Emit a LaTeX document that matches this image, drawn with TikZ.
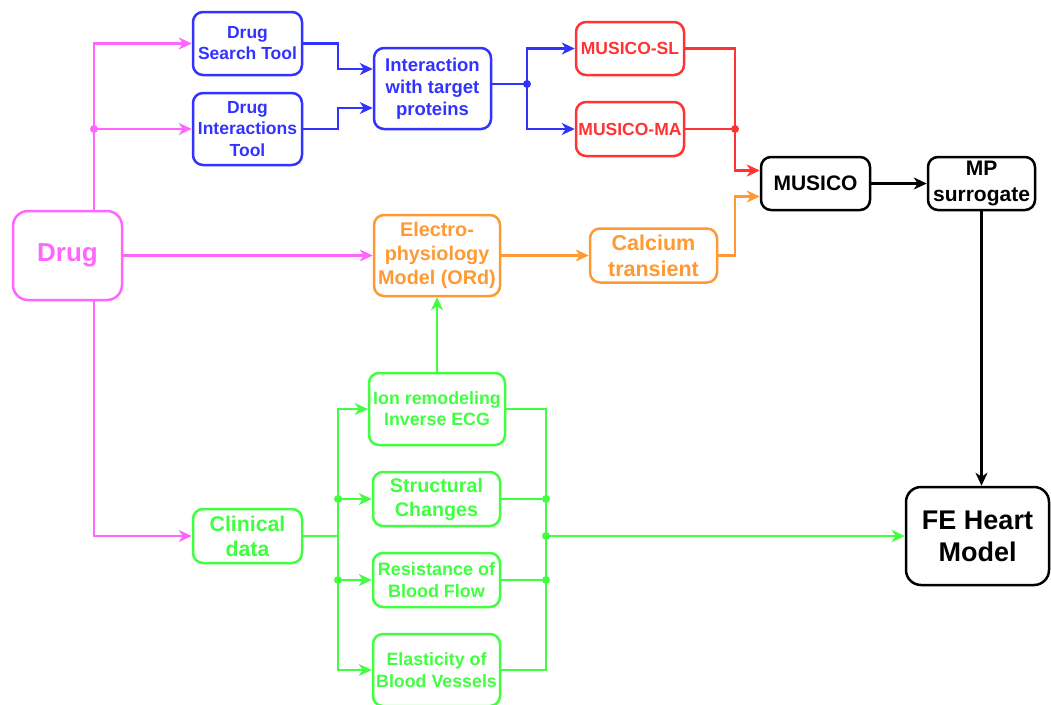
\documentclass[tikz,border=0pt]{standalone}
\usepackage{fontspec}
\setmainfont{Liberation Sans}
\usetikzlibrary{arrows.meta}
\definecolor{pinkc}{RGB}{255,102,255}
\definecolor{bluec}{RGB}{51,51,255}
\definecolor{redc}{RGB}{255,51,51}
\definecolor{orangec}{RGB}{255,153,51}
\definecolor{greenc}{RGB}{64,255,64}
\newcommand{\fsz}[2]{\fontsize{#1}{#2}\selectfont\bfseries}
\begin{document}
\begin{tikzpicture}[x=1pt,y=-1pt,
  box/.style={draw, rounded corners=10pt, line width=2.5pt, inner sep=0pt,
    align=center, fill=white},
  pinkbox/.style={box, draw=pinkc, text=pinkc},
  bluebox/.style={box, draw=bluec, text=bluec},
  redbox/.style={box, draw=redc, text=redc},
  orangebox/.style={box, draw=orangec, text=orangec},
  greenbox/.style={box, draw=greenc, text=greenc},
  blackbox/.style={box, draw=black, text=black},
  ln/.style={line width=2.5pt, -{Stealth[length=13pt,width=12pt,inset=4pt]}},
  plain/.style={line width=2.5pt},
  jdot/.style={radius=4pt},
]
\useasboundingbox (0,0) rectangle (1051,704);

% ---- boxes ----
\node[pinkbox, rounded corners=15pt, minimum width=109pt, minimum height=89pt, font=\fsz{26}{30}] (drug) at (67.5,255.5) {Drug};

\node[bluebox, minimum width=109pt, minimum height=63pt, font=\fsz{17.5}{21}] (dst) at (247.5,43.5) {Drug\\Search Tool};
\node[bluebox, minimum width=109pt, minimum height=72pt, font=\fsz{17.5}{21.5}] (dit) at (247.5,129) {Drug\\Interactions\\Tool};
\node[bluebox, minimum width=117pt, minimum height=81pt, font=\fsz{18.5}{22}] (iwt) at (432.5,88.5) {Interaction\\with target\\proteins};

\node[redbox, minimum width=108pt, minimum height=53pt, font=\fsz{17.5}{20}] (sl) at (630,48.5) {MUSICO-SL};
\node[redbox, minimum width=108pt, minimum height=54pt, font=\fsz{17.5}{20}] (ma) at (630,129) {MUSICO-MA};

\node[blackbox, minimum width=109pt, minimum height=53pt, font=\fsz{21}{24}] (musico) at (815.5,183.5) {MUSICO};
\node[blackbox, minimum width=107pt, minimum height=53pt, font=\fsz{21}{26}] (mp) at (981.5,183.5) {MP\\surrogate};
\node[blackbox, rounded corners=15pt, minimum width=143pt, minimum height=98pt, font=\fsz{27}{32}] (fe) at (977.5,536) {FE Heart\\Model};

\node[orangebox, minimum width=126pt, minimum height=81pt, font=\fsz{19.8}{24}] (ep) at (437,255.5) {Electro-\\physiology\\Model (ORd)};
\node[orangebox, minimum width=127pt, minimum height=54pt, font=\fsz{21.5}{26}] (ca) at (653.5,255.5) {Calcium\\transient};

\node[greenbox, minimum width=109pt, minimum height=54pt, font=\fsz{21.3}{25}] (cd) at (247.5,536) {Clinical\\data};
\node[greenbox, minimum width=136pt, minimum height=72pt, font=\fsz{17.8}{21}] (ion) at (437,409) {Ion remodeling\\Inverse ECG};
\node[greenbox, minimum width=127pt, minimum height=54pt, font=\fsz{19.7}{24}] (sc) at (436.5,499) {Structural\\Changes};
\node[greenbox, minimum width=127pt, minimum height=54pt, font=\fsz{18}{22}] (rb) at (436.5,580) {Resistance of\\Blood Flow};
\node[greenbox, minimum width=127pt, minimum height=72pt, font=\fsz{17.8}{22}] (eb) at (436.5,670) {Elasticity of\\Blood Vessels};

% ---- junction points ----
\coordinate (pj) at (94,129);
\coordinate (bl) at (338,0);
\coordinate (bj) at (527,84);
\coordinate (rj) at (735,129);
\coordinate (gl) at (338,536);
\coordinate (gr) at (546,536);

% ---- drug inputs ----
\draw[ln, pinkc] (drug.north -| pj) |- (dst.west);
\draw[ln, pinkc] (pj) -- (dit.west);
\draw[ln, pinkc] (drug.east) -- (ep.west);
\draw[ln, pinkc] (drug.south -| pj) |- (cd.west);
\fill[pinkc] (pj) circle[jdot];

% ---- drug tools to target proteins ----
\draw[ln, bluec] (dst.east) -- (dst.east -| bl) |- ([yshift=19.5pt]iwt.west);
\draw[ln, bluec] (dit.east) -- (dit.east -| bl) |- ([yshift=-19.5pt]iwt.west);
\draw[plain, bluec] ([yshift=4.5pt]iwt.east) -- (bj);
\draw[ln, bluec] (bj) |- (sl.west);
\draw[ln, bluec] (bj) |- (ma.west);
\fill[bluec] (bj) circle[jdot];

% ---- MUSICO variants ----
\draw[ln, redc] (sl.east) -- (sl.east -| rj) |- ([yshift=13pt]musico.west);
\draw[plain, redc] (ma.east) -- (rj);
\fill[redc] (rj) circle[jdot];

% ---- electrophysiology chain ----
\draw[ln, orangec] (ep.east) -- (ca.west);
\draw[ln, orangec] (ca.east) -- (ca.east -| rj) |- ([yshift=-13pt]musico.west);

% ---- surrogate to heart model ----
\draw[ln] (musico.east) -- (mp.west);
\draw[ln] (mp.south) -- (mp.south |- fe.north);

% ---- clinical data ----
\draw[ln, greenc] (ion.north) -- (ep.south);
\draw[plain, greenc] (cd.east) -- (gl);
\draw[ln, greenc] (gl) |- (ion.west);
\draw[ln, greenc] (gl) |- (eb.west);
\draw[ln, greenc] (sc.west -| gl) -- (sc.west);
\draw[ln, greenc] (rb.west -| gl) -- (rb.west);
\draw[plain, greenc] (ion.east) -- (ion.east -| gr) -- (eb.east -| gr) -- (eb.east);
\draw[plain, greenc] (sc.east) -- (sc.east -| gr);
\draw[plain, greenc] (rb.east) -- (rb.east -| gr);
\draw[ln, greenc] (gr) -- (fe.west);
\fill[greenc] (sc.west -| gl) circle[jdot] (rb.west -| gl) circle[jdot]
  (sc.east -| gr) circle[jdot] (rb.east -| gr) circle[jdot] (gr) circle[jdot];
\end{tikzpicture}
\end{document}
